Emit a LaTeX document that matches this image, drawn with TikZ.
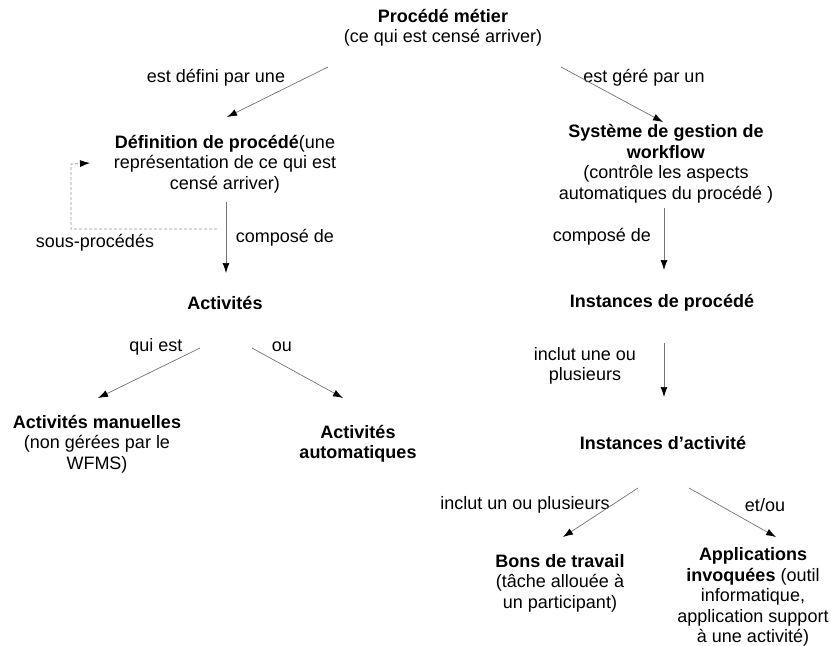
\documentclass[tikz,border=0pt]{standalone}
\usepackage{fontspec}
\setmainfont{Liberation Sans}
\usetikzlibrary{arrows.meta}
\begin{document}
\begin{tikzpicture}[x=1pt,y=-1pt,
  txt/.style={align=center,inner sep=0pt,font=\fontsize{18}{20.5}\selectfont},
  arr/.style={draw=black!55,line width=0.7pt,-{Latex[length=10pt,width=7pt,black]}},
  dsh/.style={draw=black!40,line width=0.8pt,dashed,dash pattern=on 3pt off 2pt,-{Latex[length=10pt,width=7pt,black]}}]
\useasboundingbox (0,0) rectangle (831,646);
\node[txt] (pm) at (443,28) {\textbf{Procédé métier}\\(ce qui est censé arriver)};
\node[txt] (def) at (225,164) {\textbf{Définition de procédé}(une\\représentation de ce qui est\\censé arriver)};
\node[txt] (sgw) at (666,164) {\textbf{Système de gestion de}\\\textbf{workflow}\\(contrôle les aspects\\automatiques du procédé )};
\node[txt] (act) at (225,303) {\textbf{Activités}};
\node[txt] (ip) at (662,303) {\textbf{Instances de procédé}};
\node[txt] (am) at (97,444) {\textbf{Activités manuelles}\\(non gérées par le\\WFMS)};
\node[txt] (aa) at (358,444) {\textbf{Activités}\\\textbf{automatiques}};
\node[txt] (ia) at (663,443) {\textbf{Instances d’activité}};
\node[txt] (bt) at (560,583) {\textbf{Bons de travail}\\(tâche allouée à\\un participant)};
\node[txt] (ai) at (753,597) {\textbf{Applications}\\\textbf{invoquées} (outil\\informatique,\\application support\\à une activité)};
% labels
\node[txt] (l1) at (216,78) {est défini par une};
\node[txt] (l2) at (644,78) {est géré par un};
\node[txt] (l3) at (95,243) {sous-procédés};
\node[txt] (l4) at (285,238) {composé de};
\node[txt] (l5) at (602,237) {composé de};
\node[txt] (l6) at (156,347) {qui est};
\node[txt] (l7) at (282,347) {ou};
\node[txt] (l8) at (585,366) {inclut une ou\\plusieurs};
\node[txt] (l9) at (525,505) {inclut un ou plusieurs};
\node[txt] (l10) at (765,505) {et/ou};
% connectors
\draw[arr] ([shift={(-115,39)}]pm.center) -- ([shift={(2,-47)}]def.center);
\draw[arr] ([shift={(118,39)}]pm.center) -- ([shift={(-3,-42)}]sgw.center);
\draw[arr] ([shift={(1,38)}]def.center) -- ([shift={(1,-30)}]act.center);
\draw[arr] ([shift={(-2,44)}]sgw.center) -- ([shift={(2,-33)}]ip.center);
\draw[arr] ([shift={(-25,45)}]act.center) -- ([shift={(1,-46)}]am.center);
\draw[arr] ([shift={(27,45)}]act.center) -- ([shift={(-15,-46)}]aa.center);
\draw[arr] ([shift={(2,40)}]ip.center) -- ([shift={(1,-46)}]ia.center);
\draw[arr] ([shift={(-25,45)}]ia.center) -- ([shift={(3,-46)}]bt.center);
\draw[arr] ([shift={(26,45)}]ia.center) -- ([shift={(23,-60)}]ai.center);
\draw[dsh] ([shift={(-8,65)}]def.center) -| ([shift={(-154,0)}]def.center) -- ([shift={(-135,-1)}]def.center);
\end{tikzpicture}
\end{document}
